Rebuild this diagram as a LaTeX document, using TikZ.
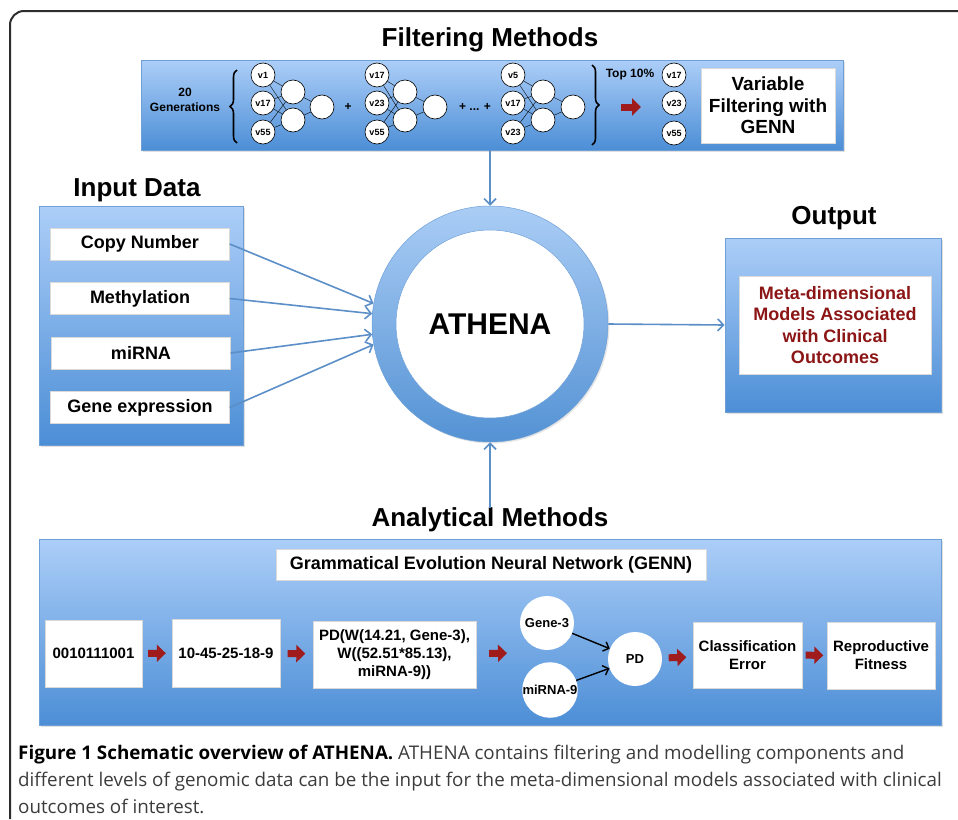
\documentclass[tikz,border=0pt]{standalone}
\usepackage{fontspec}
\setsansfont{Liberation Sans}
\newfontfamily\capfont{Open Sans}
\usepackage{xcolor}
\usepackage{tikz}
\usetikzlibrary{arrows.meta,shapes,positioning,calc,decorations.pathreplacing,shadows}

\definecolor{panelTop}{RGB}{172,206,248}
\definecolor{panelBot}{RGB}{76,142,214}
\definecolor{panelEdge}{RGB}{110,160,215}
\definecolor{ringTop}{RGB}{170,205,245}
\definecolor{ringBot}{RGB}{84,146,212}
\definecolor{arrowBlue}{RGB}{92,143,200}
\definecolor{darkRed}{RGB}{160,28,28}
\definecolor{textRed}{RGB}{140,22,22}
\definecolor{frameGray}{RGB}{45,45,45}
\definecolor{capGray}{RGB}{60,60,60}

\begin{document}
\begin{tikzpicture}[
    x=1pt, y=-1pt,
    panel/.style={rectangle, draw=panelEdge, line width=0.6pt, top color=panelTop, bottom color=panelBot, inner sep=0pt,
        drop shadow={shadow xshift=1.5pt, shadow yshift=-1.5pt, opacity=0.25}},
    box/.style={rectangle, fill=white, draw=white!85!black, line width=0.4pt, inner sep=2pt, align=center, font=\sffamily\bfseries\fontsize{15}{18}\selectfont},
    inbox/.style={box, minimum width=179, minimum height=32, font=\sffamily\bfseries\fontsize{18}{18}\selectfont},
    title/.style={inner sep=0pt, font=\sffamily\bfseries\fontsize{26}{26}\selectfont},
    small/.style={inner sep=0pt, align=center, font=\sffamily\bfseries\fontsize{12}{15}\selectfont},
    unit/.style={circle, draw, fill=white, line width=0.6pt, minimum size=24, inner sep=0pt, font=\sffamily\bfseries\fontsize{9}{9}\selectfont},
    wire/.style={line width=0.4pt},
    ball/.style={circle, fill=white, minimum size=54, inner sep=0pt, font=\sffamily\bfseries\fontsize{13}{13}\selectfont},
    arrow/.style={-{Straight Barb[length=6pt,width=12pt]}, arrowBlue, line width=1.6pt},
    blackarrow/.style={-{Straight Barb[length=5pt,width=10pt]}, line width=1.4pt},
    redarrow/.style={-{Triangle[length=9pt,width=17pt]}, darkRed, line width=7pt, shorten <=#1, shorten >=#1},
    redarrow/.default=6pt,
    curly/.style={decorate, decoration={brace, amplitude=7pt}, line width=1.6pt}
]
    \useasboundingbox (0,0) rectangle (958,819);
    \draw[frameGray, line width=2pt, rounded corners=14pt] (958,11) -- (10,11) -- (10,819);

    \node[title] (filtitle) at (490,40) {Filtering Methods};
    \node[panel, minimum width=702, minimum height=90] (filter) at (492,105) {};
    \node[small] (gens) at (185,100) {20\\Generations};
    \coordinate (lbA) at (237,143);
    \coordinate (lbB) at (237,70);
    \draw[curly] (lbA) -- (lbB);

    \node[unit] (a1) at (263,75) {v1};
    \node[unit] (a2) at (263,103) {v17};
    \node[unit] (a3) at (263,132) {v55};
    \node[unit] (ah1) at (293,92) {};
    \node[unit] (ah2) at (293,120) {};
    \node[unit] (ao) at (322,107) {};
    \node[small] (plus) at (348,107) {+};

    \node[unit] (b1) at (377,75) {v17};
    \node[unit] (b2) at (377,103) {v23};
    \node[unit] (b3) at (377,132) {v55};
    \node[unit] (bh1) at (405,92) {};
    \node[unit] (bh2) at (405,120) {};
    \node[unit] (bo) at (435,107) {};
    \node[small] (dots) at (475,107) {+ ... +};

    \node[unit] (c1) at (513,75) {v5};
    \node[unit] (c2) at (513,103) {v17};
    \node[unit] (c3) at (513,132) {v23};
    \node[unit] (ch1) at (543,92) {};
    \node[unit] (ch2) at (543,120) {};
    \node[unit] (co) at (573,107) {};

    \foreach \n in {a,b,c} {
        \foreach \i in {1,2,3} {
            \draw[wire] (\n\i) -- (\n h1);
            \draw[wire] (\n\i) -- (\n h2);
        }
        \draw[wire] (\n h1) -- (\n o);
        \draw[wire] (\n h2) -- (\n o);
    }

    \coordinate (rbA) at (592,65);
    \coordinate (rbB) at (592,145);
    \draw[curly] (rbA) -- (rbB);
    \node[small] (top) at (630,75) {Top 10\%};
    \coordinate (selA) at (621,107);
    \coordinate (selB) at (641,107);
    \draw[redarrow=0pt] (selA) -- (selB);
    \node[unit] (t1) at (674,75) {v17};
    \node[unit] (t2) at (674,103) {v23};
    \node[unit] (t3) at (674,133) {v55};
    \node[box, minimum width=134, minimum height=75, font=\sffamily\bfseries\fontsize{19}{21.5}\selectfont] (varfilt) at (768,105.5) {Variable\\Filtering with\\GENN};

    \node[title] (intitle) at (137,190) {Input Data};
    \node[panel, minimum width=204, minimum height=239] (inpanel) at (141,325.5) {};
    \node[inbox] (copy) at (140,244) {Copy Number};
    \node[inbox] (methyl) at (140,298.5) {Methylation};
    \node[inbox] (mirna) at (141,353) {miRNA};
    \node[inbox] (geneexp) at (140,407.5) {Gene expression};

    \node[circle, minimum size=236, inner sep=0pt, top color=ringTop, bottom color=ringBot, draw=panelEdge, line width=0.5pt,
        drop shadow={shadow xshift=1.5pt, shadow yshift=-1.5pt, opacity=0.2}] (ring) at (490,324) {};
    \node[circle, minimum size=188, inner sep=0pt, fill=white, draw=panelEdge, line width=0.5pt, font=\sffamily\bfseries\fontsize{30}{30}\selectfont] (athena) at (ring.center) {ATHENA};

    \draw[arrow] (copy.east) -- (ring.170);
    \draw[arrow] (methyl.east) -- (ring.175);
    \draw[arrow] (mirna.east) -- (ring.185);
    \draw[arrow] (geneexp.east) -- (ring.190);
    \draw[arrow] (filter.south -| ring.north) -- (ring.north);

    \node[title] (outtitle) at (834,218) {Output};
    \node[panel, minimum width=216, minimum height=174] (outpanel) at (833,325) {};
    \node[box, minimum width=192, minimum height=98, text=textRed, font=\sffamily\bfseries\fontsize{18}{21.5}\selectfont] (models) at (835,325) {Meta-dimensional\\Models Associated\\with Clinical\\Outcomes};
    \draw[arrow] (ring.east) -- (outpanel.west);

    \node[title] (antitle) at (490,520) {Analytical Methods};
    \draw[arrow] (antitle.north) -- (ring.south);
    \node[panel, minimum width=902, minimum height=186] (anpanel) at (490,632) {};
    \node[box, minimum width=430, minimum height=31, font=\sffamily\bfseries\fontsize{18}{18}\selectfont] (genn) at (491,564.5) {Grammatical Evolution Neural Network (GENN)};

    \node[box, minimum width=97, minimum height=67] (bits) at (93.5,653.5) {0010111001};
    \node[box, minimum width=108, minimum height=68] (codons) at (226,653) {10-45-25-18-9};
    \node[box, minimum width=163, minimum height=67] (formula) at (394.5,654.5) {PD(W(14.21, Gene-3),\\W((52.51*85.13),\\miRNA-9))};
    \coordinate (netin) at (520,653);
    \node[ball] (gene) at (547,623) {Gene-3};
    \node[ball] (mir) at (550,690) {miRNA-9};
    \node[ball] (pd) at (635,659) {PD};
    \node[box, minimum width=109, minimum height=66] (classerr) at (747.5,655) {Classification\\Error};
    \node[box, minimum width=108, minimum height=67] (fitness) at (881,655.5) {Reproductive\\Fitness};

    \draw[redarrow=6pt] (bits) -- (codons);
    \draw[redarrow=7.5pt] (codons) -- (formula);
    \draw[redarrow=13pt] (formula) -- (netin);
    \draw[blackarrow] (gene) -- (pd);
    \draw[blackarrow] (mir) -- (pd);
    \draw[redarrow=6.5pt] (pd) -- (classerr);
    \draw[redarrow=3.5pt] (classerr) -- (fitness);

    \node[anchor=north west, align=left, inner sep=0pt, text=capGray, font=\capfont\fontsize{18.8}{27}\selectfont] (caption) at (18,745) {{\bfseries\color{black}Figure 1 Schematic overview of ATHENA.} ATHENA contains filtering and modelling components and\\different levels of genomic data can be the input for the meta-dimensional models associated with clinical\\outcomes of interest.};
\end{tikzpicture}
\end{document}
